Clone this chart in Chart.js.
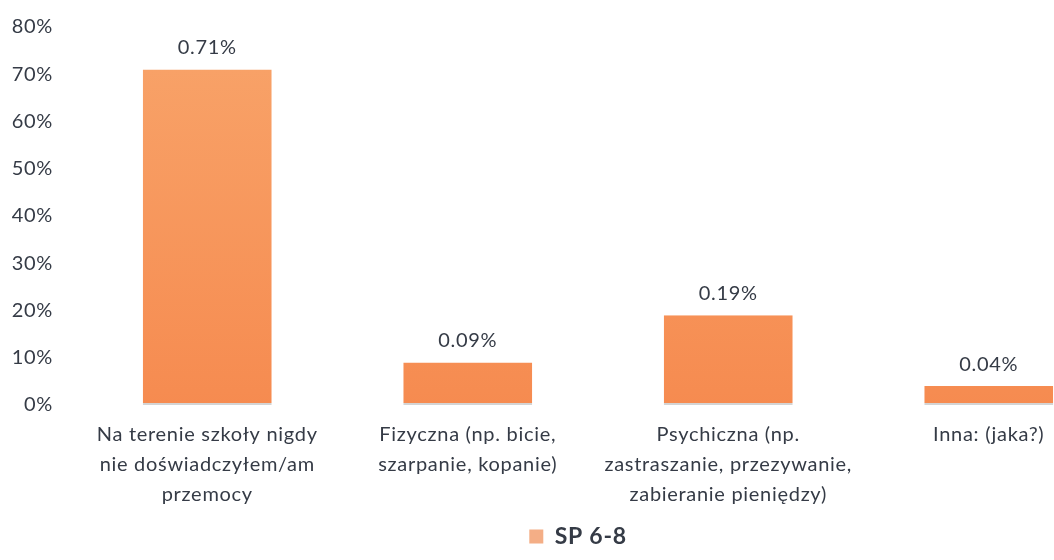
<!DOCTYPE html>
<html>
<head>
<meta charset="utf-8">
<script src="https://cdn.jsdelivr.net/npm/chart.js@4/dist/chart.umd.min.js"></script>
<style>
  html, body { margin: 0; padding: 0; background: #ffffff; overflow: hidden; }
  #wrap { width: 1156px; height: 560px; position: relative; }
</style>
</head>
<body>
<div id="wrap"><canvas id="c"></canvas></div>
<script>
const categories = [
  ["Na terenie szkoły nigdy", "nie doświadczyłem/am", "przemocy"],
  ["Fizyczna (np. bicie,", "szarpanie, kopanie)"],
  ["Psychiczna (np.", "zastraszanie, przezywanie,", "zabieranie pieniędzy)"],
  ["Inna: (jaka?)"]
];
const seriesName = "SP 6-8";
const values = [71, 9, 19, 4];
const valueLabels = ["0.71%", "0.09%", "0.19%", "0.04%"];
const yTicks = [0, 10, 20, 30, 40, 50, 60, 70, 80];

const FONT = "Lato, 'Open Sans', sans-serif";
const TEXT = "#353b46";
const SPACING = '0.7px';

const spacingPlugin = {
  id: 'spacing',
  beforeLayout(chart) { chart.ctx.letterSpacing = SPACING; },
  beforeDraw(chart) { chart.ctx.letterSpacing = SPACING; }
};

// centre the legend on the full canvas width rather than the padded area
const legendCenterPlugin = {
  id: 'legendCenter',
  afterLayout(chart) {
    const lg = chart.legend;
    if (!lg) return;
    const shift = chart.width / 2 - (lg.left + lg.right) / 2;
    lg.left += shift;
    lg.right += shift;
  }
};

const valueLabelPlugin = {
  id: 'valueLabels',
  afterDatasetsDraw(chart) {
    const ctx = chart.ctx;
    const meta = chart.getDatasetMeta(0);
    ctx.save();
    ctx.letterSpacing = SPACING;
    ctx.font = "20px " + FONT;
    ctx.fillStyle = TEXT;
    ctx.textAlign = 'center';
    ctx.textBaseline = 'middle';
    meta.data.forEach((bar, i) => {
      ctx.fillText(valueLabels[i], bar.x, bar.y - 22);
    });
    ctx.restore();
  }
};

function barFill(context) {
  const chart = context.chart;
  const area = chart.chartArea;
  if (!area) return '#f79a5e';
  const g = chart.ctx.createLinearGradient(0, area.top, 0, area.bottom);
  g.addColorStop(0, '#f8a46a');
  g.addColorStop(1, '#f68b50');
  return g;
}

new Chart(document.getElementById('c'), {
  type: 'bar',
  data: {
    labels: categories,
    datasets: [{
      label: seriesName,
      data: values,
      backgroundColor: barFill,
      borderColor: '#d4d4d4',
      borderWidth: { top: 0, left: 0, right: 0, bottom: 2 },
      borderSkipped: false,
      barPercentage: 0.495,
      categoryPercentage: 1.0
    }]
  },
  options: {
    responsive: true,
    maintainAspectRatio: false,
    animation: false,
    layout: { padding: { left: 8, right: 37, top: 27, bottom: 2 } },
    scales: {
      y: {
        min: 0, max: 80,
        afterBuildTicks(axis) { axis.ticks = yTicks.map(v => ({ value: v })); },
        afterFit(axis) { axis.width = 69; axis.paddingTop = 0; axis.paddingBottom = 0; },
        grid: { display: false, drawTicks: false },
        border: { display: false },
        ticks: {
          padding: 24,
          color: TEXT,
          font: { family: FONT, size: 20 },
          callback: v => v + '%'
        }
      },
      x: {
        afterFit(axis) { axis.height = 108; },
        grid: { display: false, drawTicks: false },
        border: { display: false },
        ticks: {
          padding: 15,
          color: TEXT,
          maxRotation: 0,
          autoSkip: false,
          font: { family: FONT, size: 20, lineHeight: 1.5 }
        }
      }
    },
    plugins: {
      legend: {
        position: 'bottom',
        labels: {
          color: TEXT,
          boxWidth: 14,
          boxHeight: 14,
          padding: 12,
          font: { family: FONT, size: 23, weight: 'bold' },
          generateLabels(chart) {
            return [{ text: seriesName, fillStyle: '#f4ae86', strokeStyle: '#f4ae86', lineWidth: 0, fontColor: TEXT, datasetIndex: 0 }];
          }
        }
      },
      tooltip: { enabled: false }
    }
  },
  plugins: [spacingPlugin, legendCenterPlugin, valueLabelPlugin]
});
</script>
</body>
</html>
